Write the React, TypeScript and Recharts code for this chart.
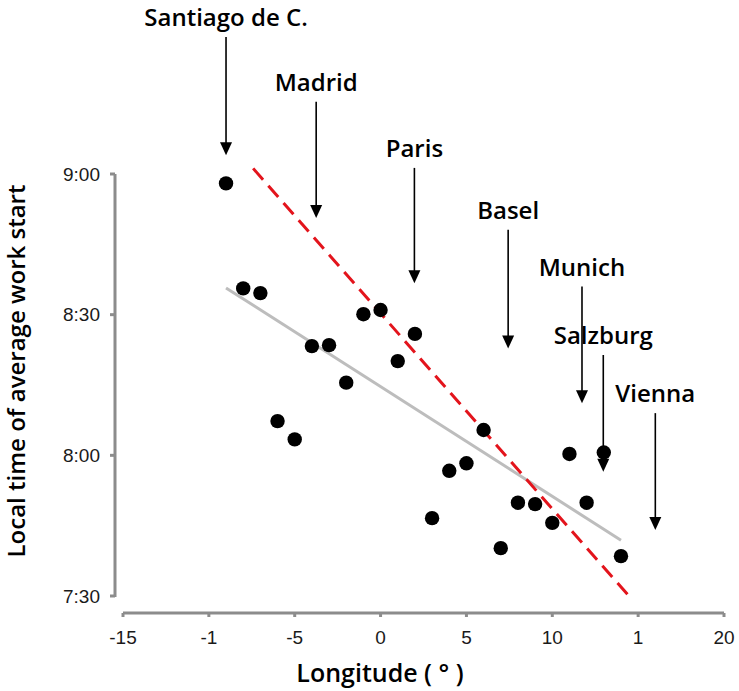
import React from 'react';
import { ScatterChart, Scatter, XAxis, YAxis, ReferenceLine, Label } from 'recharts';

// longitude (°) of each city sample and its average work start (minutes after midnight)
const longitudes = [-9, -8, -7, -6, -5, -4, -3, -2, -1, 0, 1, 2, 3, 4, 5, 6, 7, 8, 9, 10, 11, 12, 13, 14];
const startMinutes = [
  538.0, 515.6, 514.6, 487.3, 483.4, 503.3, 503.5, 495.5, 510.1, 511.0, 500.1, 505.9,
  466.6, 476.7, 478.3, 485.4, 460.2, 469.9, 469.6, 465.6, 480.3, 469.9, 480.6, 458.5,
];

const xTicks = [-15, -10, -5, 0, 5, 10, 15, 20];
const xTickLabels = ['-15', '-1', '-5', '0', '5', '10', '1', '20'];
const yTicks = [450, 480, 510, 540];
const yTickLabels = ['7:30', '8:00', '8:30', '9:00'];

// annotation arrows: city, longitude, arrow start and arrow tip (minutes)
const cities = ['Santiago de C.', 'Madrid', 'Paris', 'Basel', 'Munich', 'Salzburg', 'Vienna'];
const cityLongitudes = [-9.0, -3.75, 1.97, 7.43, 11.73, 12.97, 16.0];
const arrowTops = [569.2, 555.4, 541.3, 528.1, 516.0, 501.4, 489.0];
const arrowTips = [544.0, 530.6, 516.7, 502.8, 491.1, 476.5, 464.1];

// fitted trend (grey) and solar-time slope (red dashed)
const fitX = [-9, 14];
const fitY = [515.7, 461.9];
const sunX = [-7.42, 14.5];
const sunY = [541.2, 449.85];

const points = longitudes.map((x, i) => ({ x, y: startMinutes[i] }));

const AXIS = '#8c8c8c';
const TITLE_FONT = '"Open Sans", Lato, sans-serif';
const TICK_FONT = '"Liberation Sans", Arial, sans-serif';

const arrowShape = (name: string) => (props: any) => {
  const { x1, y1, x2, y2 } = props;
  return (
    <g>
      <text
        x={x1}
        y={y1 - 11}
        textAnchor="middle"
        fontFamily={TITLE_FONT}
        fontWeight={600}
        fontSize={24}
        fill="#000"
      >
        {name}
      </text>
      <line x1={x1} y1={y1} x2={x2} y2={y2 - 10} stroke="#000" strokeWidth={1.6} />
      <polygon points={`${x2 - 6},${y2 - 13} ${x2 + 6},${y2 - 13} ${x2},${y2}`} fill="#000" />
    </g>
  );
};

const Dot = (props: any) => <circle cx={props.cx} cy={props.cy} r={7.2} fill="#000" />;

export default function App() {
  return (
    <div style={{ position: 'absolute', left: 0, top: 0, background: '#fff' }}>
      <ScatterChart width={739} height={691} margin={{ top: 174, right: 15, left: 55, bottom: 0 }}>
        <XAxis
          type="number"
          dataKey="x"
          domain={[-15, 20]}
          ticks={xTicks}
          padding={{ left: 8, right: 0 }}
          height={78}
          axisLine={{ stroke: AXIS, strokeWidth: 3, strokeDasharray: '0 8 1000' }}
          tickLine={{ stroke: AXIS, strokeWidth: 3 }}
          tickSize={4}
          tickMargin={14}
          tick={{ fill: '#1a1a1a', fontSize: 19, fontFamily: TICK_FONT }}
          tickFormatter={(v: number) => xTickLabels[xTicks.indexOf(v)] ?? String(v)}
        >
          <Label
            content={() => (
              <text x={380} y={682} textAnchor="middle" fontFamily={TITLE_FONT} fontWeight={600} fontSize={25} fill="#000">
                Longitude ( ° )
              </text>
            )}
          />
        </XAxis>
        <YAxis
          type="number"
          dataKey="y"
          domain={[450, 540]}
          ticks={yTicks}
          padding={{ top: 0, bottom: 17 }}
          width={60}
          axisLine={{ stroke: AXIS, strokeWidth: 3, strokeDasharray: '423 1000' }}
          tickLine={{ stroke: AXIS, strokeWidth: 3 }}
          tickSize={5}
          tickMargin={10}
          tick={{ fill: '#1a1a1a', fontSize: 19, fontFamily: TICK_FONT }}
          tickFormatter={(v: number) => yTickLabels[yTicks.indexOf(v)] ?? String(v)}
        >
          <Label
            content={() => (
              <text
                x={25}
                y={371}
                transform="rotate(-90 25 371)"
                textAnchor="middle"
                fontFamily={TITLE_FONT}
                fontWeight={600}
                fontSize={24}
                fill="#000"
              >
                Local time of average work start
              </text>
            )}
          />
        </YAxis>

        <ReferenceLine
          segment={[{ x: fitX[0], y: fitY[0] }, { x: fitX[1], y: fitY[1] }]}
          stroke="#bdbdbd"
          strokeWidth={3}
          ifOverflow="visible"
        />
        <ReferenceLine
          segment={[{ x: sunX[0], y: sunY[0] }, { x: sunX[1], y: sunY[1] }]}
          stroke="#e3141c"
          strokeWidth={3}
          strokeDasharray="15 8"
          ifOverflow="visible"
        />

        {cities.map((name, i) => (
          <ReferenceLine
            key={name}
            segment={[{ x: cityLongitudes[i], y: arrowTops[i] }, { x: cityLongitudes[i], y: arrowTips[i] }]}
            ifOverflow="visible"
            shape={arrowShape(name)}
          />
        ))}

        <Scatter data={points} shape={<Dot />} isAnimationActive={false} />
      </ScatterChart>
    </div>
  );
}
